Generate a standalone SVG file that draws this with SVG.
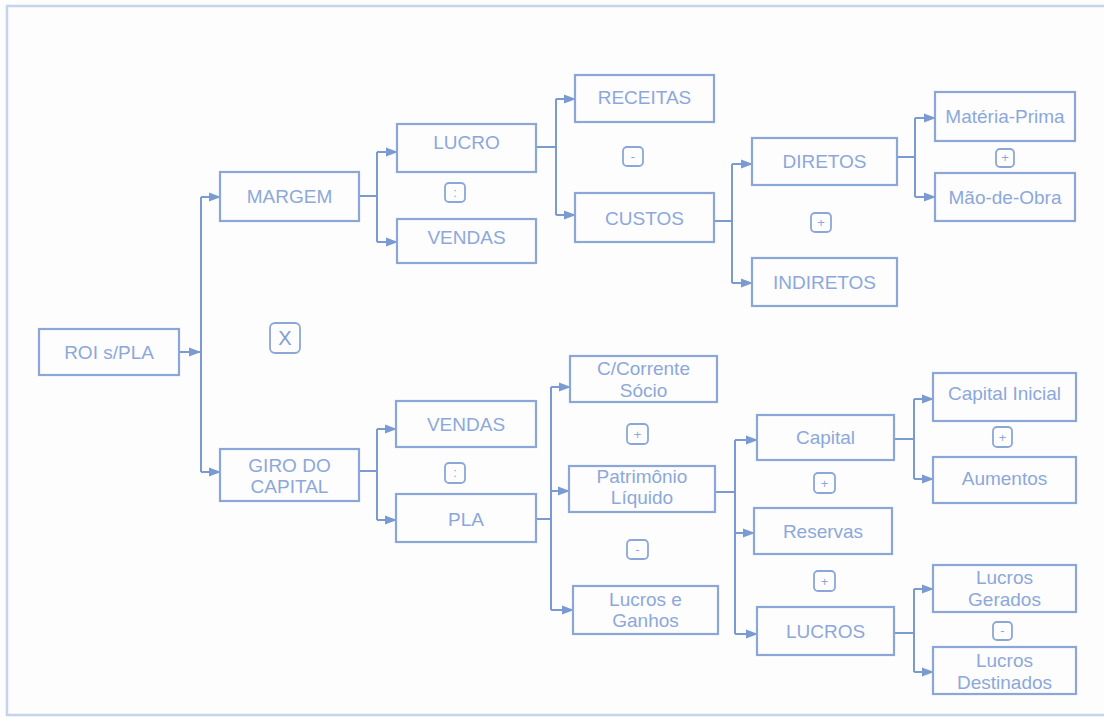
<svg xmlns="http://www.w3.org/2000/svg" width="1104" height="717" viewBox="0 0 1104 717">
<defs>
<marker id="ah" markerWidth="12" markerHeight="10" refX="11" refY="5" orient="auto" markerUnits="userSpaceOnUse">
<path d="M0,0.5 L12,5 L0,9.5 Z" fill="#7a9ad2"/>
</marker>
<style>
.bx{fill:none;stroke:#8ba7d8;stroke-width:2.2}
.op{fill:none;stroke:#8ba7d8;stroke-width:1.8}
.t{font-family:"Liberation Sans",Arial,sans-serif;font-size:19px;fill:#8ca8da;text-anchor:middle}
.s{font-family:"Liberation Sans",Arial,sans-serif;font-size:13px;fill:#8ca8da;text-anchor:middle}
.x{font-family:"Liberation Sans",Arial,sans-serif;font-size:20px;fill:#7f9dd4;text-anchor:middle}
.c{fill:none;stroke:#7a9ad2;stroke-width:2}
.a{fill:none;stroke:#7a9ad2;stroke-width:2;marker-end:url(#ah)}
.fr{fill:none;stroke:#c6d3e8;stroke-width:2.5}
</style>
</defs>
<rect width="1104" height="717" fill="#fdfdfe"/>
<path class="fr" d="M1104,6 H7 V715 H1104"/>

<g id="connectors">
<path class="a" d="M179,352 H200"/>
<path class="c" d="M201,197 V472"/>
<path class="a" d="M201,197 H220"/>
<path class="a" d="M201,472 H220"/>

<path class="c" d="M359,196 H377 M377,152 V242"/>
<path class="a" d="M377,152 H397"/>
<path class="a" d="M377,242 H397"/>

<path class="c" d="M536,147 H556 M556,99 V215"/>
<path class="a" d="M556,99 H575"/>
<path class="a" d="M556,215 H575"/>

<path class="c" d="M715,221 H732 M732,164 V283"/>
<path class="a" d="M732,164 H752"/>
<path class="a" d="M732,283 H752"/>

<path class="c" d="M897,157 H915 M915,118 V197"/>
<path class="a" d="M915,118 H935"/>
<path class="a" d="M915,197 H935"/>

<path class="c" d="M359,471 H377 M377,429 V520"/>
<path class="a" d="M377,429 H396"/>
<path class="a" d="M377,520 H396"/>

<path class="c" d="M536,519 H551 M551,387 V610"/>
<path class="a" d="M551,387 H570"/>
<path class="a" d="M551,491 H569"/>
<path class="a" d="M551,610 H573"/>

<path class="c" d="M715,492 H735 M735,440 V634"/>
<path class="a" d="M735,440 H757"/>
<path class="a" d="M735,533 H754"/>
<path class="a" d="M735,634 H757"/>

<path class="c" d="M894,439 H914 M914,399 V479"/>
<path class="a" d="M914,399 H933"/>
<path class="a" d="M914,479 H933"/>

<path class="c" d="M894,633 H914 M914,589 V672"/>
<path class="a" d="M914,589 H933"/>
<path class="a" d="M914,672 H933"/>
</g>

<g id="roi"><rect class="bx" x="39" y="329" width="140" height="46"/><text class="t" x="109" y="359">ROI s/PLA</text></g>
<g id="margem"><rect class="bx" x="220" y="172" width="139" height="49"/><text class="t" x="289.5" y="203">MARGEM</text></g>
<g id="giro"><rect class="bx" x="220" y="449" width="139" height="52"/><text class="t" x="289.5" y="472">GIRO DO</text><text class="t" x="289.5" y="493">CAPITAL</text></g>
<g id="op-x"><rect class="op" x="270" y="323" width="30" height="30" rx="5"/><text class="x" x="285" y="345">X</text></g>

<g id="lucro"><rect class="bx" x="397" y="124" width="139" height="48"/><text class="t" x="466.5" y="149">LUCRO</text></g>
<g id="op-div1"><rect class="op" x="445" y="183" width="20" height="19" rx="4"/><text class="s" x="455" y="197">:</text></g>
<g id="vendas1"><rect class="bx" x="397" y="219" width="139" height="44"/><text class="t" x="466.5" y="244">VENDAS</text></g>

<g id="receitas"><rect class="bx" x="575" y="75" width="139" height="47"/><text class="t" x="644.5" y="104">RECEITAS</text></g>
<g id="op-minus1"><rect class="op" x="623" y="147" width="20" height="19" rx="4"/><text class="s" x="633" y="161">-</text></g>
<g id="custos"><rect class="bx" x="575" y="193" width="139" height="49"/><text class="t" x="644.5" y="225">CUSTOS</text></g>

<g id="diretos"><rect class="bx" x="752" y="138" width="145" height="47"/><text class="t" x="824.5" y="168">DIRETOS</text></g>
<g id="op-plus1"><rect class="op" x="811" y="213" width="20" height="19" rx="4"/><text class="s" x="821" y="227">+</text></g>
<g id="indiretos"><rect class="bx" x="752" y="258" width="145" height="48"/><text class="t" x="824.5" y="289">INDIRETOS</text></g>

<g id="materia"><rect class="bx" x="935" y="92" width="140" height="49"/><text class="t" x="1005" y="123">Matéria-Prima</text></g>
<g id="op-plus2"><rect class="op" x="996" y="149" width="18" height="18" rx="4"/><text class="s" x="1005" y="162">+</text></g>
<g id="maodeobra"><rect class="bx" x="935" y="173" width="140" height="48"/><text class="t" x="1005" y="204">Mão-de-Obra</text></g>

<g id="vendas2"><rect class="bx" x="396" y="401" width="140" height="46"/><text class="t" x="466" y="431">VENDAS</text></g>
<g id="op-div2"><rect class="op" x="445" y="463" width="20" height="20" rx="4"/><text class="s" x="455" y="477">:</text></g>
<g id="pla"><rect class="bx" x="396" y="494" width="140" height="48"/><text class="t" x="466" y="526">PLA</text></g>

<g id="ccorrente"><rect class="bx" x="570" y="356" width="147" height="46"/><text class="t" x="643.5" y="375">C/Corrente</text><text class="t" x="643.5" y="397">Sócio</text></g>
<g id="op-plus3"><rect class="op" x="627" y="424" width="21" height="20" rx="4"/><text class="s" x="637.5" y="439">+</text></g>
<g id="patrimonio"><rect class="bx" x="569" y="466" width="146" height="46"/><text class="t" x="642" y="483">Patrimônio</text><text class="t" x="642" y="504">Líquido</text></g>
<g id="op-minus2"><rect class="op" x="627" y="540" width="21" height="19" rx="4"/><text class="s" x="637.5" y="554">-</text></g>
<g id="lucrosganhos"><rect class="bx" x="573" y="586" width="145" height="48"/><text class="t" x="645.5" y="606">Lucros e</text><text class="t" x="645.5" y="627">Ganhos</text></g>

<g id="capital"><rect class="bx" x="757" y="415" width="137" height="45"/><text class="t" x="825.5" y="444">Capital</text></g>
<g id="op-plus4"><rect class="op" x="814" y="473" width="21" height="20" rx="4"/><text class="s" x="824.5" y="488">+</text></g>
<g id="reservas"><rect class="bx" x="754" y="508" width="138" height="46"/><text class="t" x="823" y="538">Reservas</text></g>
<g id="op-plus5"><rect class="op" x="814" y="571" width="21" height="20" rx="4"/><text class="s" x="824.5" y="586">+</text></g>
<g id="lucros"><rect class="bx" x="757" y="607" width="137" height="48"/><text class="t" x="825.5" y="638">LUCROS</text></g>

<g id="capitalinicial"><rect class="bx" x="933" y="373" width="143" height="48"/><text class="t" x="1004.5" y="400">Capital Inicial</text></g>
<g id="op-plus6"><rect class="op" x="993" y="427" width="19" height="20" rx="4"/><text class="s" x="1002.5" y="442">+</text></g>
<g id="aumentos"><rect class="bx" x="933" y="457" width="143" height="46"/><text class="t" x="1004.5" y="485">Aumentos</text></g>

<g id="lucrosgerados"><rect class="bx" x="933" y="565" width="143" height="47"/><text class="t" x="1004.5" y="584">Lucros</text><text class="t" x="1004.5" y="606">Gerados</text></g>
<g id="op-minus3"><rect class="op" x="993" y="622" width="19" height="18" rx="4"/><text class="s" x="1002.5" y="635">-</text></g>
<g id="lucrosdestinados"><rect class="bx" x="933" y="647" width="143" height="47"/><text class="t" x="1004.5" y="667">Lucros</text><text class="t" x="1004.5" y="689">Destinados</text></g>
</svg>
